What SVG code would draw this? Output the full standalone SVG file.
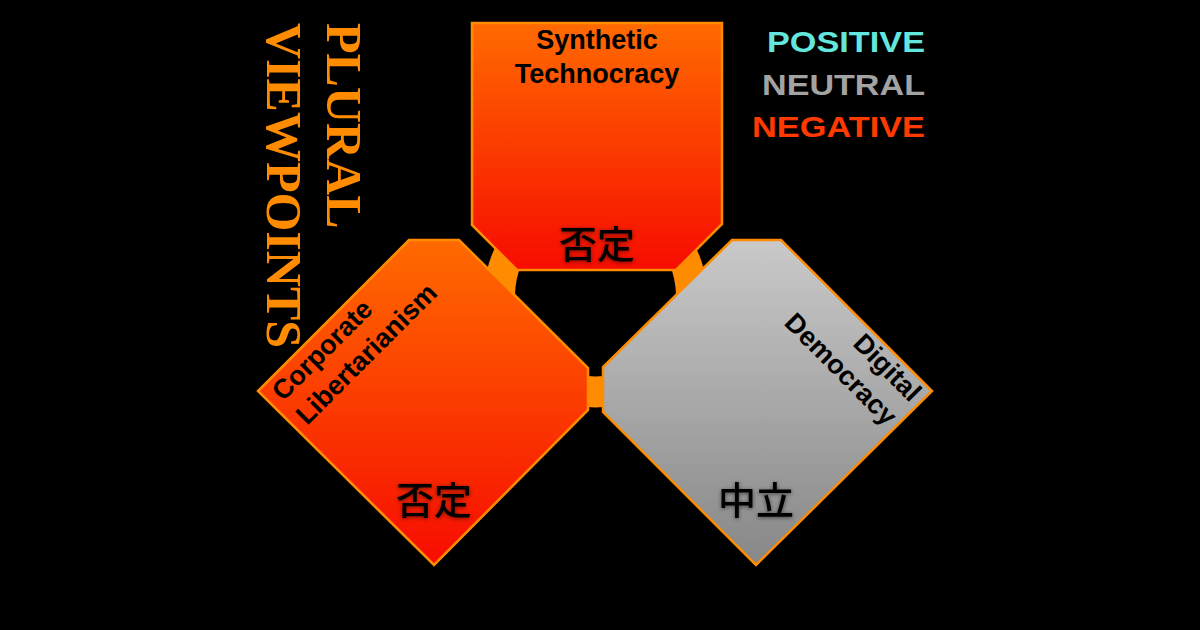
<svg xmlns="http://www.w3.org/2000/svg" width="1200" height="630" viewBox="0 0 1200 630">
  <defs>
    <linearGradient id="gNeg" x1="0" y1="0" x2="0" y2="1">
      <stop offset="0" stop-color="#FF6A00"/>
      <stop offset="1" stop-color="#F70C00"/>
    </linearGradient>
    <linearGradient id="gNeu" x1="0" y1="0" x2="0" y2="1">
      <stop offset="0" stop-color="#C9C9C9"/>
      <stop offset="1" stop-color="#878787"/>
    </linearGradient>
    <filter id="glow" x="-20%" y="-20%" width="140%" height="140%">
      <feDropShadow dx="0" dy="1" stdDeviation="2" flood-color="#000" flood-opacity="0.55"/>
    </filter>
  </defs>
  <style>
    .node { stroke: #FF8C00; stroke-width: 2.5; stroke-linejoin: miter; }
    .neg { fill: url(#gNeg); }
    .neu { fill: url(#gNeu); }
    .conn { fill: none; stroke: #FF8C00; stroke-width: 31; stroke-linecap: butt; }
    .lbl { font-family: "Liberation Sans", Arial, sans-serif; font-weight: 700; font-size: 27px; fill: #000; }
    .cjk { font-family: "Noto Sans CJK JP", "Noto Sans CJK SC", sans-serif; font-weight: 500; font-size: 38px; fill: #000; text-anchor: middle; filter: url(#glow); }
    .title { font-family: "Liberation Serif", "Times New Roman", serif; font-weight: 700; font-size: 50px; fill: #FF8C00; }
    .legend { font-family: "Liberation Sans", Arial, sans-serif; font-weight: 700; font-size: 30px; text-anchor: end; }
  </style>

  <rect x="0" y="0" width="1200" height="630" fill="#000"/>

  <g id="title">
    <text class="title" transform="translate(327,23) rotate(90)">PLURAL</text>
    <text class="title" transform="translate(267,23) rotate(90)">VIEWPOINTS</text>
  </g>

  <g id="legend">
    <text class="legend" x="925" y="52" fill="#62E6DE" textLength="158" lengthAdjust="spacingAndGlyphs">POSITIVE</text>
    <text class="legend" x="925" y="95" fill="#A3A3A3" textLength="163" lengthAdjust="spacingAndGlyphs">NEUTRAL</text>
    <text class="legend" x="925" y="137" fill="#FF3A00" textLength="173" lengthAdjust="spacingAndGlyphs">NEGATIVE</text>
  </g>

  <g id="connectors">
    <path class="conn" d="M505.29,328.83 A96,96 0 0 1 527.62,228.12"/>
    <path class="conn" d="M663.38,228.12 A96,96 0 0 1 685.71,328.83"/>
    <path class="conn" d="M663.38,363.88 A96,96 0 0 1 527.62,363.88"/>
  </g>

  <g id="synthetic-technocracy">
    <polygon class="node neg" points="472,23 722,23 722,224 676,270 517,270 472,225"/>
    <text class="lbl" x="597" y="49" text-anchor="middle">Synthetic</text>
    <text class="lbl" x="597" y="83" text-anchor="middle">Technocracy</text>
    <text class="cjk" x="597" y="258">否定</text>
  </g>

  <g id="corporate-libertarianism">
    <polygon class="node neg" points="409,240 459,240 588,368 588,410 434,565 258,391"/>
    <g transform="translate(283,402) rotate(-45)">
      <text class="lbl" x="0" y="0">Corporate</text>
      <text class="lbl" x="0" y="34">Libertarianism</text>
    </g>
    <text class="cjk" x="434" y="514">否定</text>
  </g>

  <g id="digital-democracy">
    <polygon class="node neu" points="732,240 781,240 932,391 756,565 603,412 603,367"/>
    <g transform="translate(910,403) rotate(45)">
      <text class="lbl" x="0" y="0" text-anchor="end">Digital</text>
      <text class="lbl" x="0" y="34" text-anchor="end">Democracy</text>
    </g>
    <text class="cjk" x="756" y="514">中立</text>
  </g>
</svg>
